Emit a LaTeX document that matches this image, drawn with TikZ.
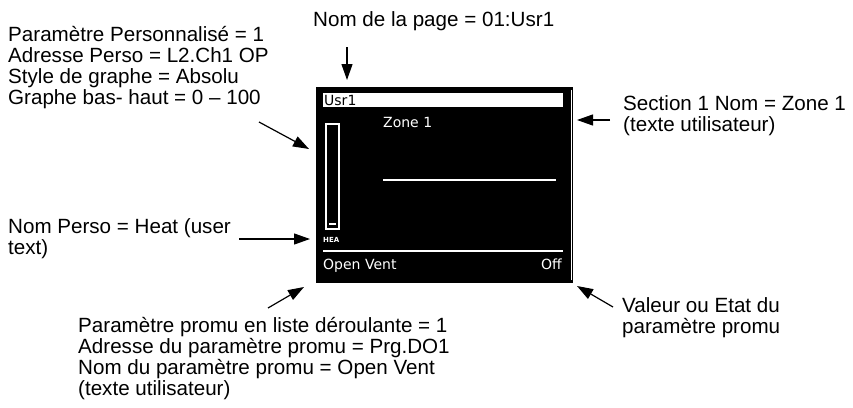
\documentclass[tikz,border=0pt]{standalone}
\usepackage{fontspec}
\setmainfont{Liberation Sans}
\newfontfamily\lcdfont{DejaVu Sans}
\usetikzlibrary{arrows.meta,positioning}

\begin{document}
\begin{tikzpicture}[x=1pt, y=-1pt,
    callout/.style={anchor=base west, inner sep=0pt, align=left,
      font=\fontsize{20.6}{21}\selectfont},
    pointer/.style={draw=black, line width=1.2pt, -{Triangle[length=16pt, width=11pt]}},
    lcd/.style={anchor=base west, inner sep=0pt, text=white,
      font=\lcdfont\fontsize{14}{14}\selectfont},
    lcdline/.style={draw=white, line width=1.3pt},
  ]
    \useasboundingbox (0,0) rectangle (853,407);

    % screen
    \fill[black] (316,87) rectangle (573,283);
    \draw[lcdline, line width=1pt] (571,90) -- (571,280);
    \fill[white] (323,93) rectangle (563,107);
    \node[lcd, text=black] (pagename) at (324,105) {Usr1};
    \node[lcd] (zonename) at (383,127) {Zone 1};
    \draw[lcdline] (326,124) rectangle (339,229);
    \draw[lcdline] (329,224) -- (336,224);
    \node[lcd, font=\lcdfont\bfseries\fontsize{7}{7}\selectfont] (barname) at (323,242) {HEA};
    \draw[lcdline] (383,180) -- (556,180);
    \draw[lcdline] (323,251) -- (563,251);
    \node[lcd] (promuname) at (323,269) {Open Vent};
    \node[lcd, anchor=base east] (promuval) at (562,269) {Off};

    % callouts (base = last line)
    \node[callout] (pagetitle) at (313,26) {Nom de la page = 01:Usr1};
    \node[callout] (persoparams) at (8,104) {Paramètre Personnalisé = 1\\Adresse Perso = L2.Ch1 OP\\Style de graphe = Absolu\\Graphe bas- haut = 0 -- 100};
    \node[callout] (sectionname) at (623,131) {Section 1 Nom = Zone 1\\(texte utilisateur)};
    \node[callout] (personame) at (8,254) {Nom Perso = Heat (user\\text)};
    \node[callout] (promuparams) at (78,395) {Paramètre promu en liste déroulante = 1\\Adresse du paramètre promu = Prg.DO1\\Nom du paramètre promu = Open Vent\\(texte utilisateur)};
    \node[callout] (promuvalue) at (622,333) {Valeur ou Etat du\\paramètre promu};

    % pointers
    \coordinate (pagetail) at (347,47);
    \coordinate (pagetip) at (347,80);
    \coordinate (persotail) at (259,122);
    \coordinate (persotip) at (309,149);
    \coordinate (sectiontail) at (610,120);
    \coordinate (sectiontip) at (577,120);
    \coordinate (nametail) at (239,239);
    \coordinate (nametip) at (310,239);
    \coordinate (promutail) at (268,308);
    \coordinate (promutip) at (304,287);
    \coordinate (valuetail) at (613,307);
    \coordinate (valuetip) at (577,286);

    \draw[pointer] (pagetail) -- (pagetip);
    \draw[pointer] (persotail) -- (persotip);
    \draw[pointer] (sectiontail) -- (sectiontip);
    \draw[pointer] (nametail) -- (nametip);
    \draw[pointer] (promutail) -- (promutip);
    \draw[pointer] (valuetail) -- (valuetip);
\end{tikzpicture}
\end{document}
